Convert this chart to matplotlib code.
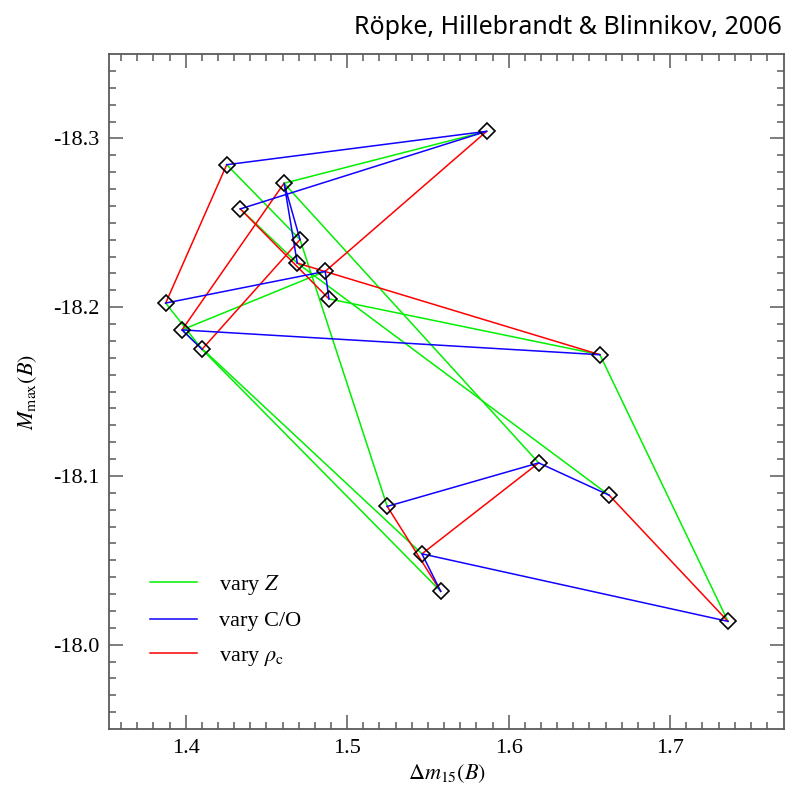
# Mmax(B) vs dm15(B) for the grid of models: vary Z, C/O and central density

import numpy as np
import matplotlib
matplotlib.use('Agg')
import matplotlib.pyplot as plt

plt.rcParams['font.family'] = 'serif'
plt.rcParams['font.serif'] = ['Liberation Serif', 'DejaVu Serif']
plt.rcParams['mathtext.fontset'] = 'stix'
plt.rcParams['axes.unicode_minus'] = False

# models: index [rho_c][Z][C/O]
dm15 = np.array([
    [[1.4254, 1.5864, 1.4338],    # low rho_c, Z step 0
     [1.4708, 1.4609, 1.4691],    # Z step 1
     [1.5248, 1.6186, 1.6623]],   # Z step 2
    [[1.3876, 1.4864, 1.4887],    # high rho_c
     [1.4101, 1.3977, 1.6565],
     [1.5579, 1.5463, 1.7358]],
])
mmax = np.array([
    [[-18.2844, -18.3042, -18.2582],
     [-18.2400, -18.2734, -18.2261],
     [-18.0819, -18.1077, -18.0885]],
    [[-18.2024, -18.2212, -18.2049],
     [-18.1750, -18.1865, -18.1718],
     [-18.0316, -18.0538, -18.0138]],
])

legend_labels = ['vary $Z$', 'vary C/O', r'vary $\rho_{\rm c}$']
colors = ['#00f000', '#1000ff', '#ff0000']

fig = plt.figure(figsize=(7.86, 7.88), dpi=100)
ax = fig.add_axes([109/786, 1 - 729/788, 675/786, 675/788])

lw = 1.1
# vary Z (green)
for r in range(2):
    for c in range(3):
        ax.plot(dm15[r, :, c], mmax[r, :, c], color=colors[0], lw=lw, zorder=2)
# vary rho_c (red)
for z in range(3):
    for c in range(3):
        ax.plot(dm15[:, z, c], mmax[:, z, c], color=colors[2], lw=lw, zorder=3)
# vary C/O (blue)
for r in range(2):
    for z in range(3):
        ax.plot(dm15[r, z, :], mmax[r, z, :], color=colors[1], lw=lw, zorder=4)

ax.plot(dm15.ravel(), mmax.ravel(), 'D', ms=8, mfc='none', mec='black',
        mew=1.2, ls='none', zorder=5)

# legend
handles = [plt.Line2D([], [], color=col, lw=lw) for col in colors]
ax.legend(handles, legend_labels, loc='center left', bbox_to_anchor=(0.061, 0.161),
          frameon=False, fontsize=16, handlelength=2.1, handletextpad=1.0,
          labelspacing=0.64, borderpad=0, borderaxespad=0)

ax.set_xlim(1.3525, 1.7705)
ax.set_ylim(-17.95, -18.35)
ax.set_xticks([1.4, 1.5, 1.6, 1.7])
ax.set_xticklabels(['1.4', '1.5', '1.6', '1.7'])
ax.set_yticks([-18.3, -18.2, -18.1, -18.0])
ax.set_yticklabels(['-18.3', '-18.2', '-18.1', '-18.0'])
ax.set_xticks(np.arange(1.36, 1.77, 0.01), minor=True)
ax.set_yticks(np.arange(-18.34, -17.955, 0.01), minor=True)

gray = '#5a5a5a'
for s in ax.spines.values():
    s.set_color(gray)
    s.set_linewidth(1.3)
ax.tick_params(which='both', direction='in', top=True, right=True, color=gray,
               width=1.1, labelsize=16, pad=7)
ax.tick_params(which='major', length=10)
ax.tick_params(which='minor', length=5)

ax.set_xlabel(r'$\Delta m_{15}(B)$', fontsize=16, labelpad=3)
ax.set_ylabel(r'$M_{\rm max}(B)$', fontsize=16, labelpad=10)

fig.text(782/786, 1 - 28/788, 'Röpke, Hillebrandt & Blinnikov, 2006',
         ha='right', va='center', fontsize=18, family='Noto Sans')

fig.savefig('out.png', dpi=100)
